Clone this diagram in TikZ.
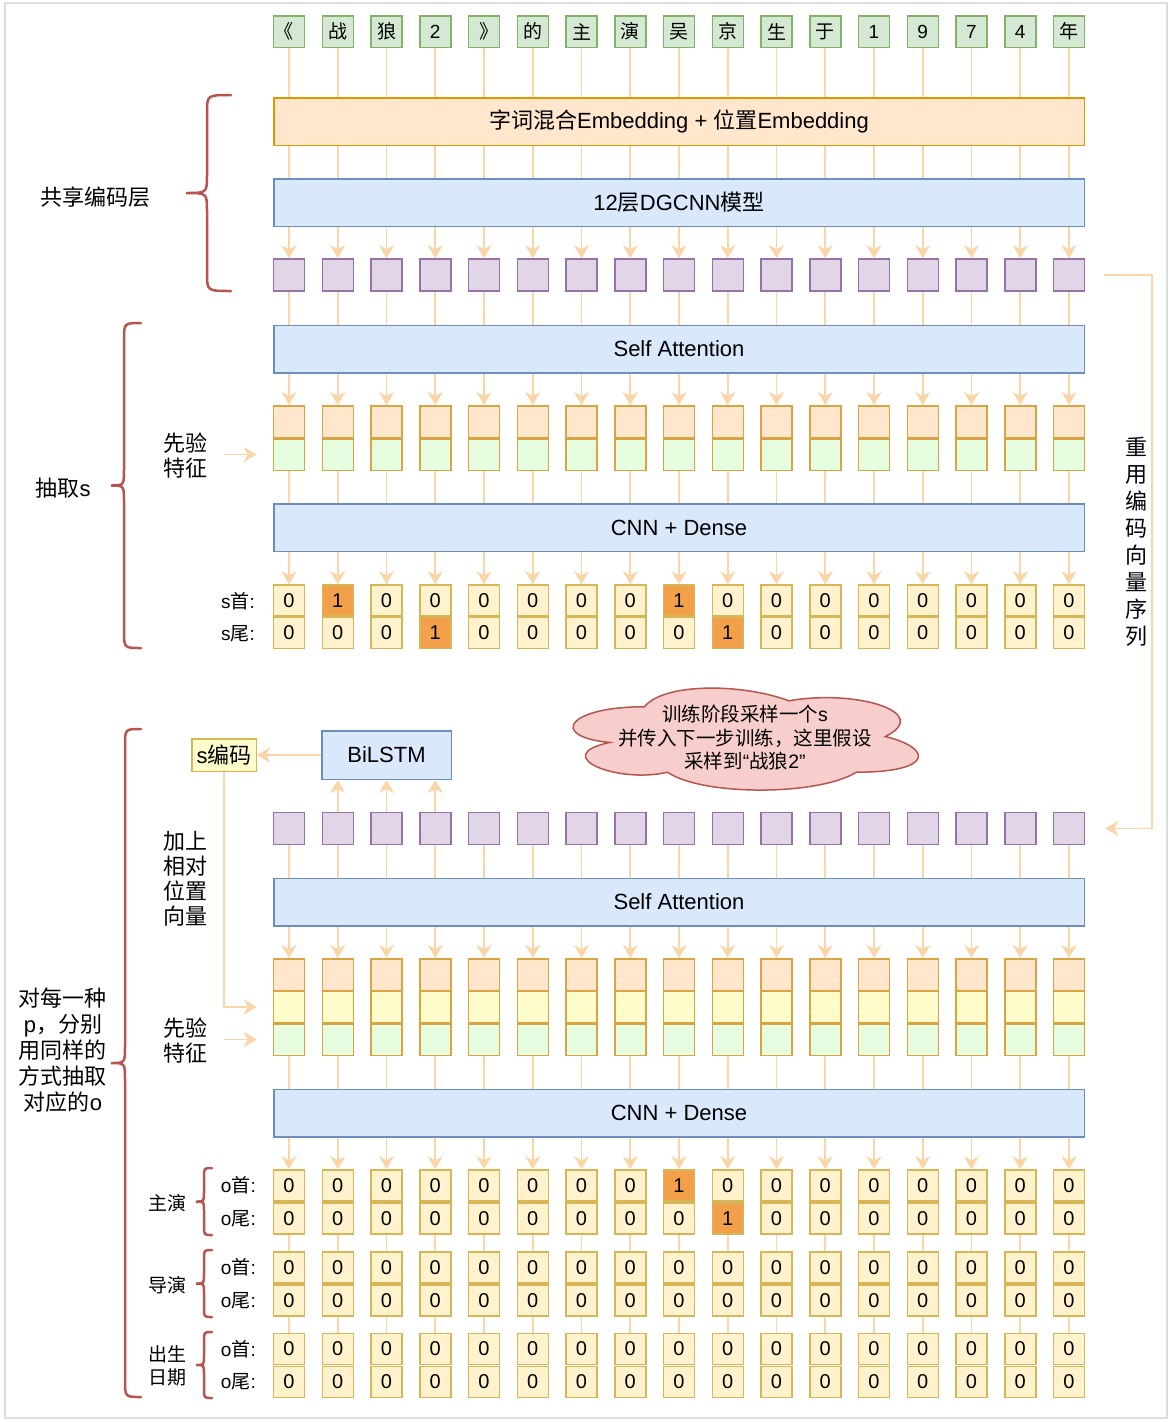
\documentclass[tikz,border=0pt]{standalone}
\usepackage{fontspec}
\setmainfont{Liberation Sans}
\newfontfamily\cjk{Noto Sans CJK SC}
\newfontfamily\cjktok[RawFeature=+halt]{Noto Sans CJK SC}
\newcommand{\zh}[1]{{\cjk #1}}
\newcommand{\tk}[1]{{\cjktok #1}}
\usetikzlibrary{arrows.meta}

\definecolor{tokfill}{HTML}{D5E8D4}
\definecolor{tokdraw}{HTML}{82B366}
\definecolor{embfill}{HTML}{FFE6CC}
\definecolor{embdraw}{HTML}{D79B00}
\definecolor{blufill}{HTML}{DAE8FC}
\definecolor{bludraw}{HTML}{6C8EBF}
\definecolor{purfill}{HTML}{E1D5E7}
\definecolor{purdraw}{HTML}{9673A6}
\definecolor{celfill}{HTML}{FFF2CC}
\definecolor{celdraw}{HTML}{D6B656}
\definecolor{hotfill}{HTML}{F2A14A}
\definecolor{grnfill}{HTML}{E6FCDF}
\definecolor{ylwfill}{HTML}{FFFCCC}
\definecolor{featdraw}{HTML}{D9A441}
\definecolor{linkcol}{HTML}{FAD5A8}
\definecolor{bracecol}{HTML}{B85450}
\definecolor{cloudfill}{HTML}{F8CECC}
\definecolor{framecol}{HTML}{DDDDDD}

\tikzset{
  box/.style = {draw, line width=1.5pt, inner sep=0pt},
  tok/.style = {box, draw=tokdraw, fill=tokfill, minimum width=31pt, minimum height=31.5pt, font=\fontsize{19}{22}\selectfont},
  vec/.style = {box, draw=purdraw, fill=purfill, minimum width=31pt, minimum height=32pt},
  bar/.style = {box, draw=bludraw, fill=blufill, minimum width=810.5pt, minimum height=47.5pt, font=\fontsize{22}{26}\selectfont},
  feat/.style = {box, draw=featdraw, minimum width=31pt, minimum height=31.5pt},
  cell0/.style = {box, draw=celdraw, fill=celfill, minimum width=31pt, minimum height=31pt, font=\fontsize{20}{24}\selectfont},
  cell1/.style = {cell0, fill=hotfill},
  link/.style = {draw=linkcol, line width=1.6pt},
  arr/.style = {link, -{Stealth[length=13pt, width=15pt, inset=4pt]}},
  sidetext/.style = {inner sep=0pt, align=center, font=\fontsize{22}{25}\selectfont},
  zhlabel/.style = {inner sep=0pt, align=center, font=\cjk\fontsize{22}{25}\selectfont},
  smalltext/.style = {inner sep=0pt, align=center, font=\fontsize{19}{23}\selectfont},
  zhsmall/.style = {inner sep=0pt, align=center, font=\cjk\fontsize{19}{23}\selectfont},
  curly/.style = {draw=bracecol, line width=2.5pt, line cap=round}
}

\newcommand{\curlybrace}[6]{%
  \draw[curly] (#3,#4) .. controls (#2,#4) .. (#2,#4+#6)
    -- (#2,{(#4+#5)/2-#6}) .. controls (#2,{(#4+#5)/2}) .. (#1,{(#4+#5)/2})
    .. controls (#2,{(#4+#5)/2}) .. (#2,{(#4+#5)/2+#6})
    -- (#2,#5-#6) .. controls (#2,#5) .. (#3,#5);}

\begin{document}
\begin{tikzpicture}[x=1pt, y=-1pt]
\useasboundingbox (0,0) rectangle (1170,1422);
\draw[framecol, line width=2pt] (4.5,2.5) rectangle (1166.5,1417.5);

\node[bar, draw=embdraw, fill=embfill] (emb) at (679,121.5) {\zh{字词混合}Embedding + \zh{位置}Embedding};
\node[bar] (dg) at (679,202.5) {12\zh{层}DGCNN\zh{模型}};
\node[bar] (sa1) at (679,349) {Self Attention};
\node[bar] (cnn1) at (679,527.5) {CNN + Dense};
\node[bar] (sa2) at (679,902) {Self Attention};
\node[bar] (cnn2) at (679,1113) {CNN + Dense};

\foreach \t [count=\i from 0] in {\tk{《},\tk{战},\tk{狼},2,\tk{》},\tk{的},\tk{主},\tk{演},\tk{吴},\tk{京},\tk{生},\tk{于},1,9,7,4,\tk{年}} {
  \pgfmathsetmacro\x{289+48.75*\i}
  \pgfmathtruncatemacro\sh{(\i==1)+(\i==8)}
  \pgfmathtruncatemacro\st{(\i==3)+(\i==9)}
  \pgfmathtruncatemacro\oh{\i==8}
  \pgfmathtruncatemacro\ot{\i==9}

  \node[tok] (tok\i) at (\x,31.5) {\t};
  \node[vec] (pa\i) at (\x,275) {};
  \node[feat, fill=embfill] (ta\i) at (\x,421.5) {};
  \node[feat, fill=grnfill] (ga\i) at (\x,454.5) {};
  \node[cell\sh] (sh\i) at (\x,600.5) {\sh};
  \node[cell\st] (st\i) at (\x,633) {\st};

  \node[vec] (pb\i) at (\x,828.5) {};
  \node[feat, fill=embfill] (tb\i) at (\x,974.5) {};
  \node[feat, fill=ylwfill] (yb\i) at (\x,1007) {};
  \node[feat, fill=grnfill] (gb\i) at (\x,1039.5) {};
  \node[cell\oh] (oh1-\i) at (\x,1185.5) {\oh};
  \node[cell\ot] (ot1-\i) at (\x,1218.5) {\ot};
  \node[cell0] (oh2-\i) at (\x,1267.5) {0};
  \node[cell0] (ot2-\i) at (\x,1300.5) {0};
  \node[cell0] (oh3-\i) at (\x,1349) {0};
  \node[cell0] (ot3-\i) at (\x,1382) {0};

  \draw[link] (tok\i) -- (tok\i |- emb.north);
  \draw[link] (tok\i |- emb.south) -- (tok\i |- dg.north);
  \draw[arr] (tok\i |- dg.south) -- (pa\i);
  \draw[link] (pa\i) -- (pa\i |- sa1.north);
  \draw[arr] (pa\i |- sa1.south) -- (ta\i);
  \draw[link] (ga\i) -- (ga\i |- cnn1.north);
  \draw[arr] (ga\i |- cnn1.south) -- (sh\i);

  \draw[link] (pb\i) -- (pb\i |- sa2.north);
  \draw[arr] (pb\i |- sa2.south) -- (tb\i);
  \draw[link] (gb\i) -- (gb\i |- cnn2.north);
  \draw[arr] (gb\i |- cnn2.south) -- (oh1-\i);
  \draw[link] (ot1-\i) -- (oh2-\i);
  \draw[link] (ot2-\i) -- (oh3-\i);
}

\node[box, draw=bludraw, fill=blufill, minimum width=129.5pt, minimum height=48.5pt, font=\fontsize{22}{26}\selectfont] (lstm) at (386.5,755) {BiLSTM};
\node[box, draw=celdraw, fill=ylwfill, minimum width=64.5pt, minimum height=32.5pt, font=\fontsize{22}{26}\selectfont] (senc) at (224,755) {s\zh{编码}};
\draw[arr] (lstm) -- (senc);
\foreach \i in {1,2,3}
  \draw[arr] (pb\i) -- (pb\i |- lstm.south);
\draw[arr] (senc) |- ([xshift=-16pt]yb0.west);

\begin{scope}[shift={(548,677)}, x=385.5pt, y=-119pt]
  \draw[draw=bracecol, fill=cloudfill, line width=1.5pt]
    (0.25,0.25) .. controls (0.05,0.25) and (0,0.5) .. (0.16,0.55)
    .. controls (0,0.66) and (0.18,0.9) .. (0.31,0.8)
    .. controls (0.4,1) and (0.7,1) .. (0.8,0.8)
    .. controls (1,0.8) and (1,0.6) .. (0.875,0.5)
    .. controls (1,0.3) and (0.8,0.1) .. (0.625,0.2)
    .. controls (0.5,0.05) and (0.3,0.05) .. (0.25,0.25) -- cycle;
\end{scope}
\node[inner sep=0pt, align=center, font=\fontsize{19.5}{23.5}\selectfont] (note) at (745,738) {\zh{训练阶段采样一个}s\\\zh{并传入下一步训练，这里假设}\\\zh{采样到}“\zh{战狼}2”};

\draw[arr] ([xshift=19pt]pa16.east) -- ++(48,0) |- ([xshift=20pt]pb16.east);
\node[zhlabel, font=\cjk\fontsize{22}{27}\selectfont] (reuse) at (1136,542) {重\\用\\编\\码\\向\\量\\序\\列};

\node[zhlabel] (prior1) at (185,455.5) {先验\\特征};
\coordinate (in1) at ([xshift=-49pt]ga0.west);
\draw[arr] (in1) -- ([xshift=-16pt]ga0.west);
\node[zhlabel] (addpos) at (185,879) {加上\\相对\\位置\\向量};
\node[zhlabel] (prior2) at (185,1040.5) {先验\\特征};
\coordinate (in2) at ([xshift=-49pt]gb0.west);
\draw[arr] (in2) -- ([xshift=-16pt]gb0.west);

\node[smalltext, anchor=east] (lsh) at (255,601) {s\zh{首}:};
\node[smalltext, anchor=east] (lst) at (255,634) {s\zh{尾}:};
\foreach \g/\y in {1/1185.5, 2/1267.5, 3/1349} {
  \node[smalltext, anchor=east] (loh\g) at (256,\y) {o\zh{首}:};
  \node[smalltext, anchor=east] (lot\g) at (256,\y+33) {o\zh{尾}:};
}
\node[zhsmall] (lead) at (167,1203) {主演};
\node[zhsmall] (dir) at (167,1285) {导演};
\node[zhsmall] (birth) at (167,1366) {出生\\日期};

\node[zhlabel] (share) at (95,197) {共享编码层};
\node[sidetext] (exs) at (63,488) {\zh{抽取}s};
\node[sidetext, font=\fontsize{22}{26}\selectfont] (exo) at (63,1050) {\zh{对每一种}\\p\zh{，分别}\\\zh{用同样的}\\\zh{方式抽取}\\\zh{对应的}o};

\curlybrace{186}{207}{231}{95}{291}{18}
\curlybrace{111}{124}{141}{323}{648}{17}
\curlybrace{111}{125}{141}{729}{1397}{17}
\curlybrace{196}{204}{212}{1168}{1235}{9}
\curlybrace{196}{204}{212}{1250}{1317}{9}
\curlybrace{196}{204}{212}{1332}{1398}{9}
\end{tikzpicture}
\end{document}
